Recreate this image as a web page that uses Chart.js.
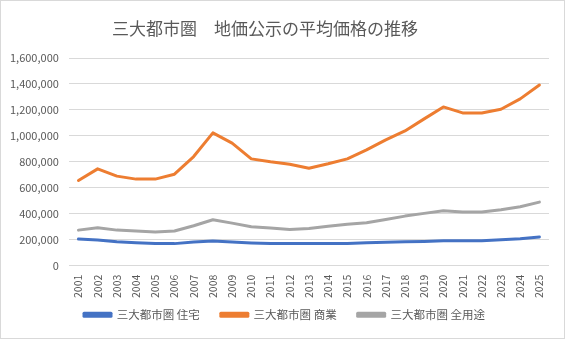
<!DOCTYPE html>
<html>
<head>
<meta charset="utf-8">
<script src="https://cdn.jsdelivr.net/npm/chart.js@4"></script>
<style>
  html, body { margin: 0; padding: 0; background: #fff; }
  #chart { display: block; }
</style>
</head>
<body>
<canvas id="chart" width="565" height="339"></canvas>
<script>
const years = ["2001", "2002", "2003", "2004", "2005", "2006", "2007", "2008", "2009", "2010", "2011", "2012", "2013",
    "2014", "2015", "2016", "2017", "2018", "2019", "2020", "2021", "2022", "2023", "2024", "2025"];

// 三大都市圏 住宅
const residential = [205000, 197000, 185000, 177000, 170000, 170000, 182000, 190000, 182000, 175000, 170000, 170000, 170000,
    170000, 170000, 177000, 180000, 185000, 187000, 192000, 192000, 192000, 200000, 208000, 221000];
// 三大都市圏 商業
const commercial = [656000, 746000, 690000, 667000, 667000, 705000, 841000, 1023000, 944000, 823000, 800000, 782000, 751000,
    785000, 823000, 892000, 969000, 1038000, 1131000, 1223000, 1177000, 1177000, 1205000, 1285000, 1392000];
// 三大都市圏 全用途
const allUse = [274000, 292000, 274000, 267000, 259000, 267000, 308000, 354000, 328000, 300000, 290000, 279000, 287000,
    303000, 320000, 331000, 356000, 382000, 403000, 423000, 413000, 413000, 431000, 454000, 490000];

const seriesNames = ["三大都市圏 住宅", "三大都市圏 商業", "三大都市圏 全用途"];
const chartTitle = "三大都市圏　地価公示の平均価格の推移";

const textColor = "#595959";
const baseFont = "'Noto Sans CJK JP', 'Noto Sans', sans-serif";

// 枠線とタイトル、凡例の位置
const frame = {
    id: "frame",
    beforeInit(chart) {
        const fit = chart.legend.fit;
        chart.legend.fit = function () {
            fit.call(this);
            this.height = 36;
        };
    },
    afterLayout(chart) {
        const lg = chart.legend;
        lg.top -= 11;
        lg.bottom -= 11;
        lg.left = 2;
        lg.right = chart.width + 2;
    },
    beforeDraw(chart) {
        const c = chart.ctx;
        c.save();
        c.fillStyle = "#fff";
        c.fillRect(0, 0, chart.width, chart.height);
        c.restore();
    },
    afterDraw(chart) {
        const c = chart.ctx;
        c.save();
        c.strokeStyle = "#d9d9d9";
        c.lineWidth = 1;
        c.strokeRect(0.5, 0.5, chart.width - 1, chart.height - 1);
        c.fillStyle = textColor;
        c.font = "17px " + baseFont;
        c.textAlign = "center";
        c.textBaseline = "middle";
        c.fillText(chartTitle, 265, 29);
        c.restore();
    }
};

const ctx = document.getElementById("chart").getContext("2d");
new Chart(ctx, {
    type: "line",
    data: {
        labels: years,
        datasets: [
            { label: seriesNames[0], data: residential, borderColor: "#4472C4", backgroundColor: "#4472C4" },
            { label: seriesNames[1], data: commercial, borderColor: "#ED7D31", backgroundColor: "#ED7D31" },
            { label: seriesNames[2], data: allUse, borderColor: "#A5A5A5", backgroundColor: "#A5A5A5" }
        ]
    },
    options: {
        responsive: false,
        animation: false,
        layout: { padding: { top: 58, left: 0, right: 16, bottom: 4 } },
        elements: {
            line: { borderWidth: 3, tension: 0, borderCapStyle: "round", borderJoinStyle: "round" },
            point: { radius: 0 }
        },
        plugins: {
            title: { display: false },
            tooltip: { enabled: false },
            legend: {
                position: "bottom",
                labels: {
                    color: textColor,
                    font: { size: 11.5, family: baseFont },
                    boxWidth: 27,
                    boxHeight: 3,
                    padding: 21
                }
            }
        },
        scales: {
            x: {
                offset: true,
                grid: { display: false },
                border: { display: false },
                ticks: {
                    color: textColor,
                    font: { size: 10.5, family: baseFont },
                    minRotation: 90,
                    maxRotation: 90,
                    autoSkip: false,
                    padding: 1
                }
            },
            y: {
                min: 0,
                max: 1600000,
                grid: { color: "#d9d9d9", drawTicks: false },
                border: { display: false },
                ticks: {
                    stepSize: 200000,
                    color: textColor,
                    font: { size: 11, family: baseFont },
                    padding: 10,
                    callback: v => v.toLocaleString("en-US")
                }
            }
        }
    },
    plugins: [frame]
});
</script>
</body>
</html>
